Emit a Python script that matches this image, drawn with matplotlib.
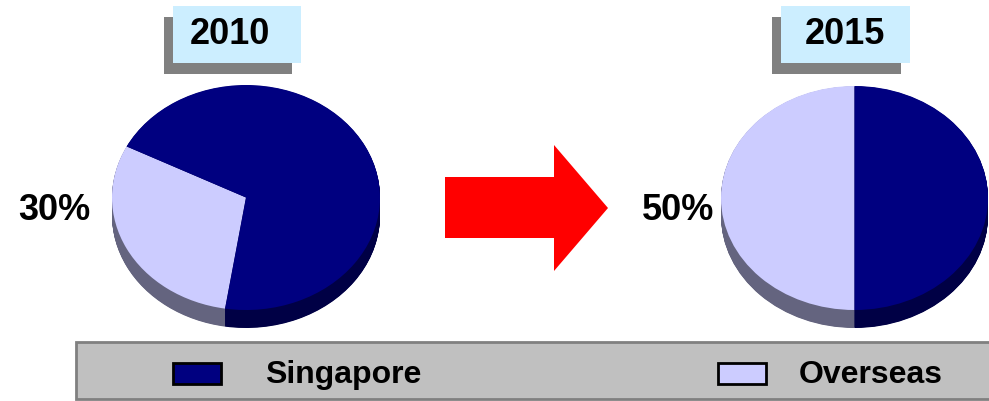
import numpy as np
import matplotlib.pyplot as plt
from matplotlib.patches import Rectangle, Polygon

plt.rcParams['font.family'] = ['Liberation Sans', 'DejaVu Sans']

# data
years = ['2010', '2015']
labels = ['Overseas', 'Singapore']
overseas = [30, 50]
singapore = [70, 50]
start_angles = [153, 90]

top_colors = ['#CCCCFF', '#000080']
side_colors = ['#64647F', '#000045']

W, H = 989, 401
fig = plt.figure(figsize=(W / 100, H / 100), dpi=100)

# background axes in pixel coords
bg = fig.add_axes([0, 0, 1, 1])
bg.set_xlim(0, W)
bg.set_ylim(H, 0)
bg.axis('off')

# pie boxes (pixels): left, top, right, bottom incl. depth
pie_boxes = [(112, 85, 380, 328), (721, 86, 988, 328)]
depth_px = 18

for i, yr in enumerate(years):
    x0, y0, x1, y1 = pie_boxes[i]
    ax = fig.add_axes([x0 / W, (H - y1) / H, (x1 - x0) / W, (y1 - y0) / H])
    ry = (y1 - y0 - depth_px) / 2
    d = depth_px / ry
    vals = [overseas[i], singapore[i]]
    # side of the 3d pie: stacked layers
    for k in np.linspace(d, 0.0, 40)[:-1]:
        ax.pie(vals, colors=side_colors, startangle=start_angles[i],
               center=(0, -k), radius=1, wedgeprops=dict(linewidth=0))
    ax.pie(vals, colors=top_colors, startangle=start_angles[i],
           center=(0, 0), radius=1, wedgeprops=dict(linewidth=0))
    ax.set_aspect('auto')
    ax.set_xlim(-1, 1)
    ax.set_ylim(-1 - d, 1)
    ax.axis('off')

# title boxes with shadow
title_boxes = [(173, 6, 301, 63), (781, 6, 910, 63)]
title_text_x = [230, 845]
for i, yr in enumerate(years):
    bx0, by0, bx1, by1 = title_boxes[i]
    bg.add_patch(Rectangle((bx0 - 9, by0 + 11), bx1 - bx0, by1 - by0,
                           facecolor='#808080', edgecolor='none'))
    bg.add_patch(Rectangle((bx0, by0), bx1 - bx0, by1 - by0,
                           facecolor='#CCEEFF', edgecolor='none'))
    bg.text(title_text_x[i], 35, yr, fontsize=26, fontweight='bold',
            ha='center', va='center')

# percent labels for overseas share
bg.text(54, 210, f'{overseas[0]}%', fontsize=26, fontweight='bold',
        ha='center', va='center')
bg.text(678, 210, f'{overseas[1]}%', fontsize=26, fontweight='bold',
        ha='center', va='center')

# red arrow
arrow = Polygon([(445, 177), (554, 177), (554, 145), (608, 208),
                 (554, 271), (554, 238), (445, 238)],
                closed=True, facecolor='#FF0000', edgecolor='none')
bg.add_patch(arrow)

# legend bar
bg.add_patch(Rectangle((76, 342), 930, 57, facecolor='#C0C0C0',
                       edgecolor='#808080', linewidth=2))
leg_order = ['Singapore', 'Overseas']
leg_colors = {'Singapore': top_colors[1], 'Overseas': top_colors[0]}
swatch_x = [173, 718]
text_x = [265, 799]
for j, name in enumerate(leg_order):
    bg.add_patch(Rectangle((swatch_x[j], 363), 48, 21,
                           facecolor=leg_colors[name], edgecolor='black',
                           linewidth=2))
    bg.text(text_x[j], 375, name, fontsize=23, fontweight='bold',
            ha='left', va='center')

fig.savefig('out.png', dpi=100)
